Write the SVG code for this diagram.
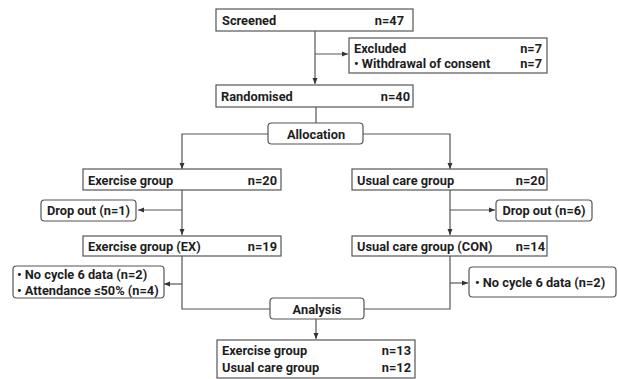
<svg xmlns="http://www.w3.org/2000/svg" width="618" height="379" viewBox="0 0 618 379">
<defs>
<style>
.box{fill:#fff;stroke:#555;stroke-width:1.2}
.t{font-family:Roboto,"Liberation Sans",sans-serif;font-weight:bold;font-size:12.8px;fill:#1e1e1e}
.r{text-anchor:end}
.c{text-anchor:middle}
.ln{fill:none;stroke:#555;stroke-width:1.2}
</style>
<marker id="ah" viewBox="0 0 6 6" refX="6" refY="3" markerWidth="6" markerHeight="6" markerUnits="userSpaceOnUse" orient="auto">
<path d="M0,0.5 L6,3 L0,5.5 Z" fill="#333"/>
</marker>
</defs>
<rect width="618" height="379" fill="#fff"/>
<g id="connectors">
<path class="ln" d="M315,31 V84" marker-end="url(#ah)"/>
<path class="ln" d="M315,54 H348" marker-end="url(#ah)"/>
<path class="ln" d="M316,107 V123"/>
<path class="ln" d="M268,134 H182 V169" marker-end="url(#ah)"/>
<path class="ln" d="M363,134 H450 V169" marker-end="url(#ah)"/>
<path class="ln" d="M182,190 V235" marker-end="url(#ah)"/>
<path class="ln" d="M182,210 H138" marker-end="url(#ah)"/>
<path class="ln" d="M450,190 V235" marker-end="url(#ah)"/>
<path class="ln" d="M450,210 H495" marker-end="url(#ah)"/>
<path class="ln" d="M182,256 V309 H270"/>
<path class="ln" d="M182,284 H164" marker-end="url(#ah)"/>
<path class="ln" d="M450,256 V309 H364"/>
<path class="ln" d="M450,283 H468" marker-end="url(#ah)"/>
<path class="ln" d="M316,319 V339" marker-end="url(#ah)"/>
</g>
<g id="screened">
<rect class="box" x="216" y="9" width="197" height="22"/>
<text class="t" x="222" y="25">Screened</text>
<text class="t r" x="404" y="25">n=47</text>
</g>
<g id="excluded">
<rect class="box" x="349" y="38" width="198" height="35"/>
<text class="t" x="354" y="53">Excluded</text>
<text class="t r" x="542" y="53">n=7</text>
<text class="t" x="354" y="68">• Withdrawal of consent</text>
<text class="t r" x="542" y="68">n=7</text>
</g>
<g id="randomised">
<rect class="box" x="216" y="85" width="197" height="22"/>
<text class="t" x="221" y="100.5">Randomised</text>
<text class="t r" x="410" y="100.5">n=40</text>
</g>
<g id="allocation">
<rect class="box" x="268" y="123" width="95" height="21" rx="3.5"/>
<text class="t c" x="316" y="138.5">Allocation</text>
</g>
<g id="exercise-group">
<rect class="box" x="83" y="169" width="198" height="21"/>
<text class="t" x="88" y="184.5">Exercise group</text>
<text class="t r" x="277" y="184.5">n=20</text>
</g>
<g id="usual-care-group">
<rect class="box" x="352" y="169" width="195" height="21"/>
<text class="t" x="357" y="184.5">Usual care group</text>
<text class="t r" x="545" y="184.5">n=20</text>
</g>
<g id="dropout-ex">
<rect class="box" x="41" y="200" width="95" height="21" rx="3.5"/>
<text class="t c" x="88.5" y="215">Drop out (n=1)</text>
</g>
<g id="dropout-con">
<rect class="box" x="496" y="200" width="96" height="21" rx="3.5"/>
<text class="t c" x="544" y="215">Drop out (n=6)</text>
</g>
<g id="exercise-ex">
<rect class="box" x="83" y="236" width="198" height="20"/>
<text class="t" x="88" y="251">Exercise group (EX)</text>
<text class="t r" x="277" y="251">n=19</text>
</g>
<g id="usual-con">
<rect class="box" x="352" y="236" width="195" height="20"/>
<text class="t" x="357" y="251">Usual care group (CON)</text>
<text class="t r" x="545" y="251">n=14</text>
</g>
<g id="excl-ex">
<rect class="box" x="13" y="266" width="151" height="32" rx="3.5"/>
<text class="t" x="17" y="279">• No cycle 6 data (n=2)</text>
<text class="t" x="17" y="294.5">• Attendance ≤50% (n=4)</text>
</g>
<g id="excl-con">
<rect class="box" x="469" y="267" width="147" height="30" rx="3.5"/>
<text class="t" x="475" y="287">• No cycle 6 data (n=2)</text>
</g>
<g id="analysis">
<rect class="box" x="270" y="298" width="94" height="21" rx="3.5"/>
<text class="t c" x="317" y="313.5">Analysis</text>
</g>
<g id="final">
<rect class="box" x="217" y="340" width="198" height="38"/>
<text class="t" x="222" y="355">Exercise group</text>
<text class="t r" x="411" y="355">n=13</text>
<text class="t" x="222" y="372">Usual care group</text>
<text class="t r" x="411" y="372">n=12</text>
</g>
</svg>
